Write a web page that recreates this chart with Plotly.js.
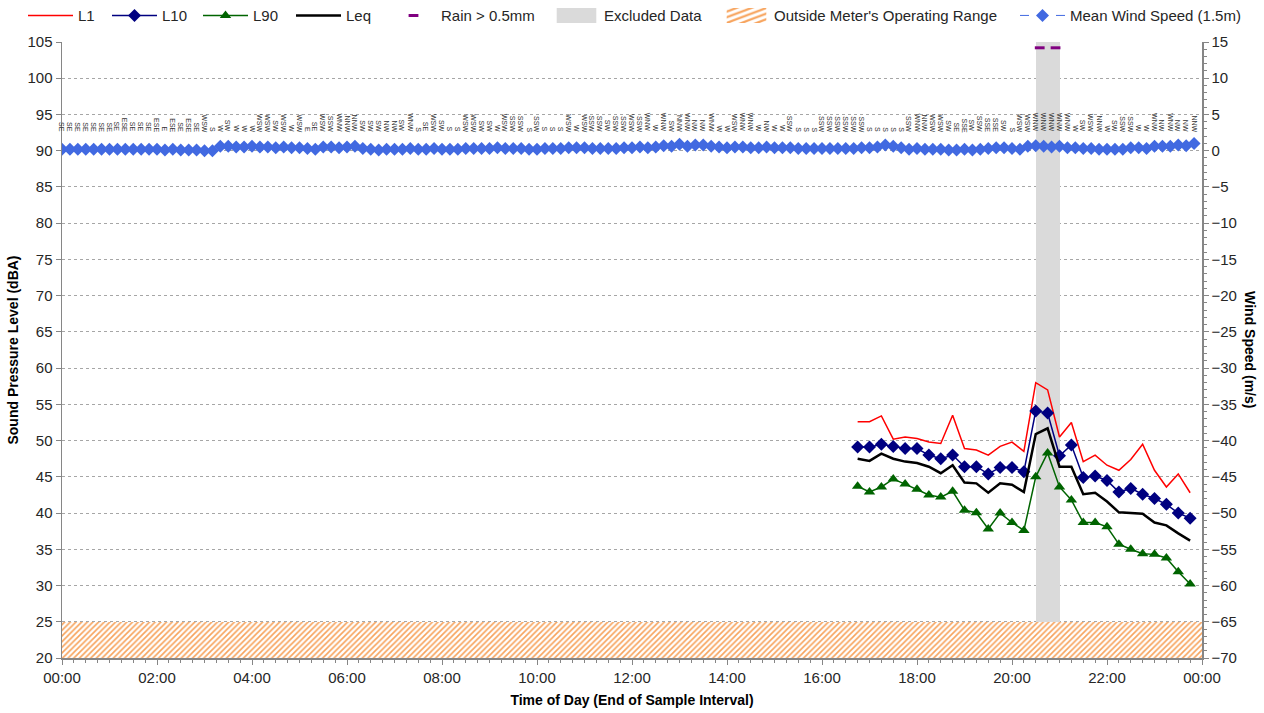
<!DOCTYPE html>
<html>
<head>
<meta charset="utf-8">
<script src="https://cdn.plot.ly/plotly-3.0.1.min.js"></script>
<style>
html,body{margin:0;padding:0;background:#fff;}
#chart{width:1264px;height:713px;}
</style>
</head>
<body>
<div id="chart"></div>
<script>
// ---------------- DATA ----------------
const baseDay = '2000-01-01';
const nextDay = '2000-01-02';

// Sound levels, 15-minute intervals (end of interval)
const soundTimes = ['16:45','17:00','17:15','17:30','17:45','18:00','18:15','18:30','18:45','19:00',
  '19:15','19:30','19:45','20:00','20:15','20:30','20:45','21:00','21:15','21:30',
  '21:45','22:00','22:15','22:30','22:45','23:00','23:15','23:30','23:45'];
const L1  = [52.6,52.6,53.4,50.2,50.5,50.3,49.8,49.6,53.5,48.9,48.7,48.0,49.2,49.8,48.5,58.0,57.0,50.5,52.5,47.1,48.0,46.6,45.9,47.4,49.5,45.9,43.6,45.4,42.8];
const L10 = [49.1,49.1,49.5,49.2,48.9,48.9,48.0,47.5,48.0,46.4,46.4,45.4,46.3,46.3,45.7,54.1,53.8,47.9,49.4,44.9,45.1,44.5,42.9,43.4,42.6,42.0,41.2,40.0,39.3];
const L90 = [43.7,42.9,43.6,44.7,44.0,43.3,42.5,42.2,43.0,40.4,40.05,37.8,40.0,38.7,37.6,45.0,48.3,43.6,41.8,38.7,38.7,38.1,35.7,35.0,34.4,34.3,33.8,31.9,30.2];
const Leq = [47.5,47.2,48.2,47.5,47.1,46.9,46.4,45.5,46.6,44.2,44.1,42.8,44.1,43.9,42.9,50.9,51.7,46.4,46.4,42.6,42.8,41.6,40.1,40.0,39.9,38.7,38.3,37.2,36.2];

// Rain > 0.5mm
const rainTimes = ['20:35','20:55'];
const rainLevel = 104.2;

// Excluded data period
const excludedStart = '20:30';
const excludedEnd = '21:00';

// Meter operating range floor (dBA)
const axisFloor = 20;
const operatingFloor = 25;

// Wind, 10-minute intervals starting 00:00
const windStart = '00:00';
const windStepMin = 10;
const windSpeed = [
  0.2,0.2,0.2,0.2,0.2,0.2,0.2,0.2,0.2,0.2,0.2,0.2,0.2,0.1,0.2,0.1,0.1,0.1,0.0,0.0,
  0.6,0.6,0.5,0.5,0.6,0.5,0.5,0.4,0.5,0.4,0.4,0.3,0.2,0.5,0.5,0.4,0.5,0.6,0.3,0.2,
  0.1,0.2,0.2,0.2,0.3,0.2,0.2,0.3,0.2,0.2,0.2,0.3,0.3,0.3,0.3,0.4,0.3,0.3,0.3,0.2,
  0.2,0.3,0.3,0.3,0.4,0.4,0.4,0.3,0.3,0.3,0.3,0.4,0.4,0.5,0.4,0.5,0.7,0.6,0.9,0.6,
  0.8,0.8,0.6,0.5,0.4,0.5,0.5,0.4,0.4,0.5,0.4,0.4,0.4,0.3,0.3,0.3,0.3,0.3,0.3,0.3,
  0.3,0.4,0.4,0.5,0.8,0.6,0.4,0.2,0.3,0.2,0.2,0.2,0.1,0.1,0.2,0.1,0.2,0.3,0.4,0.4,
  0.3,0.2,0.6,0.7,0.6,0.5,0.6,0.4,0.4,0.3,0.3,0.2,0.2,0.2,0.2,0.4,0.4,0.3,0.6,0.6,
  0.6,0.8,0.7,1.0];
const windDir = [
  'SE','SE','SE','SE','SE','SE','SE','SE','ESE','SE','SE','SE','ESE','E','ESE','SE','ESE','SE','WSW','S',
  'W','SW','W','W','W','WSW','WSW','SW','WSW','W','WSW','E','SE','WSW','SSW','WNW','NNW','NNW','SW','SW',
  'SW','NW','NW','SW','WNW','S','SE','WSW','SW','S','S','WSW','WSW','SW','SW','W','WSW','SSW','SSW','S',
  'SSW','S','S','S','WSW','W','WSW','SSW','SSW','SW','SSW','SSW','WSW','SSW','WNW','W','WNW','SW','NNW','WNW',
  'NW','NW','WNW','W','W','WSW','WNW','WNW','W','NW','W','W','SSW','S','S','S','SSW','SSW','SSW','SSW',
  'SSW','SSW','S','S','S','S','S','SSW','WNW','NNW','WSW','WSW','SW','SE','SSE','SW','SSW','SSE','SSE','SW',
  'S','WSW','WSW','WNW','WNW','WNW','WNW','WNW','W','SW','WSW','NNW','W','SW','SSW','SSW','W','W','WNW','NW',
  'WNW','NW','NW','NNW'];
const windLabelLevel = 92.3; // label base on the dBA axis

// Axis ranges
const leftRange = [20, 105];
const rightRange = [-70, 15];

// ---------------- HELPERS ----------------
function ts(hhmm){ return baseDay + ' ' + hhmm; }
function addMinutes(hhmm, m){
  const [h, mm] = hhmm.split(':').map(Number);
  const t = h*60 + mm + m;
  const d = t >= 1440 ? nextDay : baseDay;
  const tt = t % 1440;
  return d + ' ' + String(Math.floor(tt/60)).padStart(2,'0') + ':' + String(tt%60).padStart(2,'0');
}
const windTimes = windSpeed.map((_, i) => addMinutes(windStart, i*windStepMin));
const sT = soundTimes.map(ts);
function toMs(hhmm){ const [h,m] = hhmm.split(':').map(Number); return (h*60+m)*60000; }

const FONT = 'Arial, "Liberation Sans", sans-serif';
const TXT = '#404040';
const TICK = '#262626';

const traces = [
  {type:'scatter', mode:'lines', name:'L1', x:sT, y:L1, line:{color:'#FF0000', width:1.5}, legend:'legend'},
  {type:'scatter', mode:'lines+markers', name:'L10', x:sT, y:L10, line:{color:'#000080', width:1.5},
    marker:{symbol:'diamond', size:10, color:'#000080'}, legend:'legend2'},
  {type:'scatter', mode:'lines+markers', name:'L90', x:sT, y:L90, line:{color:'#006400', width:1.5},
    marker:{symbol:'triangle-up', size:10, color:'#006400'}, legend:'legend3'},
  {type:'scatter', mode:'lines', name:'Leq', x:sT, y:Leq, line:{color:'#000000', width:2.5}, legend:'legend4'},
  {type:'scatter', mode:'markers', name:'Rain > 0.5mm', x:rainTimes.map(ts), y:rainTimes.map(()=>rainLevel),
    marker:{symbol:'line-ew', size:7, line:{color:'#800080', width:3}}, legend:'legend5'},
  {type:'bar', name:'Excluded Data',
    x:[addMinutes(excludedStart, (toMs(excludedEnd)-toMs(excludedStart))/120000)],
    y:[leftRange[1]-axisFloor], base:[axisFloor], width:[toMs(excludedEnd)-toMs(excludedStart)],
    marker:{color:'#DADADA', line:{width:0}}, legend:'legend6'},
  {type:'bar', name:"Outside Meter's Operating Range", x:[ts('12:00')], y:[operatingFloor-axisFloor], base:[axisFloor],
    width:[24*3600000],
    marker:{color:'#FFFFFF', line:{width:0}, pattern:{shape:'/', fgcolor:'#F7A35C', bgcolor:'#FFFFFF', size:4, solidity:0.4}},
    legend:'legend7'},
  {type:'scatter', mode:'lines+markers', name:'Mean Wind Speed (1.5m)', x:windTimes, y:windSpeed, yaxis:'y2',
    line:{color:'#4169E1', width:1, dash:'dash'}, marker:{symbol:'diamond', size:10, color:'#4169E1'}, legend:'legend8'}
];
const drawOrder = [5,6,7,0,1,2,3,4].map(i => traces[i]);

const annotations = windTimes.map((t, i) => ({
  x: t, y: windLabelLevel, xref:'x', yref:'y', text: windDir[i], showarrow:false, textangle:90,
  xanchor:'center', yanchor:'bottom', font:{family:FONT, size:7, color:'#333333'}
}));
annotations.push({
  xref:'paper', yref:'paper', x:1.042, y:0.5, text:'Wind Speed (m/s)', showarrow:false, textangle:90,
  font:{family:FONT, size:14, color:'#000', weight:'bold'}, xanchor:'center', yanchor:'middle'
});

// legend placement (text start x in px)
const legendTextX = [81,165,256,349,444,607,777,1073];
const legendBase = {orientation:'h', xref:'container', yref:'container', y:0.978, yanchor:'middle', xanchor:'left',
  font:{family:FONT, size:15, color:TICK}, itemwidth:45, bgcolor:'rgba(0,0,0,0)', borderwidth:0};
const legends = {};
legendTextX.forEach((tx, i) => {
  const key = i === 0 ? 'legend' : 'legend' + (i+1);
  legends[key] = Object.assign({}, legendBase, {x:(tx - 58)/1264});
});

const layout = Object.assign({
  width:1264, height:713,
  margin:{l:62, r:62, t:42, b:55},
  paper_bgcolor:'#fff', plot_bgcolor:'#fff',
  font:{family:FONT, size:14, color:TXT},
  barmode:'overlay', bargap:0,
  showlegend:true,
  xaxis:{type:'date', range:[ts('00:00'), nextDay+' 00:00'], tickformat:'%H:%M', tick0:ts('00:00'), dtick:7200000,
    ticks:'outside', ticklen:5, tickcolor:'#868686', showline:true, linecolor:'#868686', linewidth:1.5,
    showgrid:false, zeroline:false, tickfont:{family:FONT, size:15, color:TICK},
    minor:{dtick:900000, ticks:'outside', ticklen:3, tickcolor:'#868686', showgrid:false},
    title:{text:'Time of Day (End of Sample Interval)', font:{family:FONT, size:14, color:'#000', weight:'bold'}, standoff:10}},
  yaxis:{range:leftRange, dtick:5, tick0:20, ticks:'outside', ticklen:5, tickcolor:'#868686', showline:true, linecolor:'#868686', linewidth:1.5,
    showgrid:true, gridcolor:'#A6A6A6', griddash:'dot', gridwidth:1, zeroline:false,
    tickfont:{family:FONT, size:15, color:TICK},
    title:{text:'Sound Pressure Level (dBA)', font:{family:FONT, size:14, color:'#000', weight:'bold'}, standoff:5}},
  yaxis2:{range:rightRange, dtick:5, tick0:-70, overlaying:'y', side:'right', ticks:'outside', ticklen:5, tickcolor:'#868686',
    showline:true, linecolor:'#868686', linewidth:1.5, showgrid:false, zeroline:false,
    tickfont:{family:FONT, size:15, color:TICK},
    minor:{dtick:1, ticks:'outside', ticklen:3, tickcolor:'#868686', showgrid:false}},
  annotations: annotations
}, legends);

function widenBarSwatches(gd){
  gd.querySelectorAll('g.traces').forEach(g => {
    const d = g.__data__;
    const tr = d && d[0] && d[0].trace;
    if (!tr || tr.type !== 'bar') return;
    g.querySelectorAll('g.legendpoints path').forEach(p => {
      const t = p.getAttribute('transform') || '';
      if (t.indexOf('scale') === -1) p.setAttribute('transform', t + ' scale(3.3,1.25)');
    });
  });
}

Plotly.newPlot('chart', drawOrder, layout, {displayModeBar:false, staticPlot:true}).then(gd => {
  widenBarSwatches(gd);
  gd.on('plotly_afterplot', () => widenBarSwatches(gd));
  setTimeout(() => widenBarSwatches(gd), 50);
});
</script>
</body>
</html>
